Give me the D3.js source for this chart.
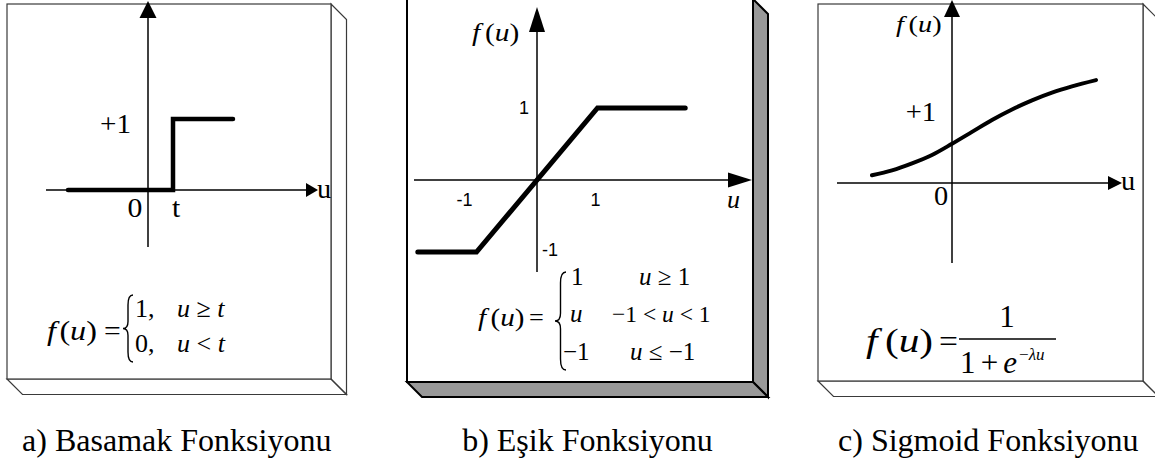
<!DOCTYPE html>
<html>
<head>
<meta charset="utf-8">
<script src="https://cdn.jsdelivr.net/npm/d3@7"></script>
<style>
  html, body { margin: 0; padding: 0; background: #fff; }
  svg { display: block; }
  .serif { font-family: "Liberation Serif", "Tinos", "Times New Roman", "DejaVu Serif", serif; }
  .sans { font-family: "Liberation Sans", Arimo, Arial, "DejaVu Sans", sans-serif; }
</style>
</head>
<body>
<svg id="fig" width="1155" height="461"></svg>
<script>
// ---- values ----
// a) step function: f = 0 for u < t, 1 for u >= t (u measured in units of t)
const stepU = [-3.2, 1, 1, 3.4];
const stepF = [0, 0, 1, 1];
// b) threshold (saturating linear) function
const rampU = [-1.97, -1, 1, 2.45];
const rampF = [-1, -1, 1, 1];
const rampTicks = [-1, 1];
// c) sigmoid curve, sampled points
const sigU = [-2.0, -1.5, -1.0, -0.5, 0, 0.5, 1.0, 1.5, 2.0, 2.5, 3.0, 3.6];
const sigF = [0.11, 0.18, 0.28, 0.40, 0.56, 0.73, 0.90, 1.05, 1.18, 1.29, 1.38, 1.47];
const captions = ["a) Basamak Fonksiyonu", "b) Eşik Fonksiyonu", "c) Sigmoid Fonksiyonu"];

// ---- layout ----
const svg = d3.select("#fig");

const panels = [
  { box: [7, 4, 331, 379], depth: 15.5, heavy: false,
    ox: 148, oy: 190, ux: 25, uy: 71,
    xAxis: [46, 318], yAxis: [1, 247], arrowV: [17, 8.5], arrowH: [12, 7] },
  { box: [407, -1, 753, 382], depth: 15, heavy: true,
    ox: 537, oy: 180, ux: 60.5, uy: 72,
    xAxis: [414, 752], yAxis: [7, 272], arrowV: [25, 8], arrowH: [24, 7.5] },
  { box: [818, 4, 1143, 381], depth: 15.5, heavy: false,
    ox: 952, oy: 183, ux: 40, uy: 70,
    xAxis: [837, 1122], yAxis: [0, 263], arrowV: [17, 8], arrowH: [14, 7] }
];

// 3-D looking slab behind each plot
function drawBox(p) {
  const [x0, y0, x1, y1] = p.box, d = p.depth;
  const g = svg.append("g")
    .attr("stroke", p.heavy ? "#000" : "#3a3a3a")
    .attr("stroke-width", p.heavy ? 2 : 1.2)
    .attr("stroke-linejoin", "miter");
  const fill = p.heavy ? "#999" : "none";
  g.append("polygon")
    .attr("points", [[x1, y0], [x1 + d, y0 + d], [x1 + d, y1 + d], [x1, y1]].join(" "))
    .attr("fill", fill);
  g.append("polygon")
    .attr("points", [[x0, y1], [x1, y1], [x1 + d, y1 + d], [x0 + d, y1 + d]].join(" "))
    .attr("fill", fill);
  g.append("rect")
    .attr("x", x0).attr("y", y0).attr("width", x1 - x0).attr("height", y1 - y0)
    .attr("fill", "#fff");
}

function drawAxes(p, g) {
  const a = g.append("g").attr("stroke", "#000").attr("stroke-width", 1.5);
  a.append("line").attr("x1", p.xAxis[0]).attr("x2", p.xAxis[1] - p.arrowH[0] + 1)
    .attr("y1", p.oy).attr("y2", p.oy);
  a.append("line").attr("x1", p.ox).attr("x2", p.ox)
    .attr("y1", p.yAxis[0] + p.arrowV[0] - 1).attr("y2", p.yAxis[1]);
  const [hl, hw] = p.arrowH, [vl, vw] = p.arrowV;
  g.append("path").attr("fill", "#000")
    .attr("d", `M${p.xAxis[1]},${p.oy} L${p.xAxis[1] - hl},${p.oy - hw} L${p.xAxis[1] - hl},${p.oy + hw} Z`);
  g.append("path").attr("fill", "#000")
    .attr("d", `M${p.ox},${p.yAxis[0]} L${p.ox - vw},${p.yAxis[0] + vl} L${p.ox + vw},${p.yAxis[0] + vl} Z`);
}

// text made of [string, italic, dx, dy, size] pieces, horizontally stretched by sx
function label(g, x, y, pieces, o = {}) {
  const t = g.append("text")
    .attr("class", o.sans ? "sans" : "serif")
    .attr("transform", `translate(${x},${y}) scale(${o.sx || 1},1)`)
    .attr("font-size", o.size || 24)
    .attr("text-anchor", o.anchor || "start")
    .attr("fill", "#000");
  if (typeof pieces === "string") pieces = [[pieces, !!o.italic]];
  pieces.forEach(([s, it, dx, dy, size]) => {
    const ts = t.append("tspan").attr("font-style", it ? "italic" : "normal").text(s);
    if (dx) ts.attr("dx", dx);
    if (dy) ts.attr("dy", dy);
    if (size) ts.attr("font-size", size);
  });
  return t;
}

// f(u) written the way an equation editor sets it
const fu = (gap) => [["f", true], ["(", false, gap], ["u", true], [")", false]];

function brace(g, x, yTop, yBot, w) {
  const m = (yTop + yBot) / 2, c = x + w * 0.5;
  g.append("path").attr("fill", "none").attr("stroke", "#000").attr("stroke-width", 1.4)
    .attr("d", `M${x + w},${yTop} Q${c},${yTop} ${c},${yTop + w} L${c},${m - w * 0.7}` +
      ` Q${c},${m} ${x},${m} Q${c},${m} ${c},${m + w * 0.7} L${c},${yBot - w} Q${c},${yBot} ${x + w},${yBot}`);
}

panels.forEach(drawBox);

const scales = panels.map(p => ({
  x: d3.scaleLinear().domain([0, 1]).range([p.ox, p.ox + p.ux]),
  y: d3.scaleLinear().domain([0, 1]).range([p.oy, p.oy - p.uy])
}));

// ---------- a) step ----------
{
  const p = panels[0], s = scales[0], g = svg.append("g");
  drawAxes(p, g);
  const pts = stepU.map((u, i) => [u, stepF[i]]);
  g.append("path").datum(pts)
    .attr("fill", "none").attr("stroke", "#000").attr("stroke-width", 4.5)
    .attr("stroke-linecap", "round").attr("stroke-linejoin", "miter")
    .attr("d", d3.line().x(d => s.x(d[0])).y(d => s.y(d[1])));
  label(g, 131, s.y(1) + 14, "+1", { size: 27, sx: 1.08, anchor: "end" });
  label(g, 135, s.y(0) + 27, "0", { size: 27, sx: 1.1, anchor: "middle" });
  label(g, s.x(1) + 3, s.y(0) + 27, "t", { size: 27, sx: 1.1, anchor: "middle" });
  label(g, 317, s.y(0) + 8, "u", { size: 27, sx: 1.05 });

  label(g, 47, 340, fu(3), { size: 28, sx: 1.15 });
  label(g, 104, 340, "=", { size: 27, sx: 1.1 });
  brace(g, 123, 295, 362, 10);
  label(g, 135, 317, "1,", { size: 26 });
  label(g, 177, 317, [["u", true], [" ≥ ", false], ["t", true]], { size: 26 });
  label(g, 135, 352, "0,", { size: 26 });
  label(g, 177, 352, [["u", true], [" < ", false], ["t", true]], { size: 26 });
}

// ---------- b) threshold ----------
{
  const p = panels[1], s = scales[1], g = svg.append("g");
  drawAxes(p, g);
  const pts = rampU.map((u, i) => [u, rampF[i]]);
  g.append("path").datum(pts)
    .attr("fill", "none").attr("stroke", "#000").attr("stroke-width", 5)
    .attr("stroke-linecap", "round").attr("stroke-linejoin", "miter")
    .attr("d", d3.line().x(d => s.x(d[0])).y(d => s.y(d[1])));

  const dxTick = { "-1": -12, "1": -2 };
  rampTicks.forEach(v => {
    label(g, s.x(v) + dxTick[v], s.y(0) + 26, String(v), { sans: true, size: 18, anchor: "middle" });
  });
  label(g, p.ox - 8, s.y(1) + 6, "1", { sans: true, size: 18, anchor: "end" });
  label(g, p.ox + 5, s.y(-1) + 4, "-1", { sans: true, size: 18 });
  label(g, 727, s.y(0) + 28, "u", { size: 26, italic: true });
  label(g, 472, 41, fu(4), { size: 25, sx: 1.18 });

  label(g, 478, 326, fu(4), { size: 26, sx: 1.12 });
  label(g, 529, 326, "=", { size: 25, sx: 1.05 });
  brace(g, 555, 272, 370, 11);
  label(g, 571, 285, "1", { size: 25 });
  label(g, 639, 285, [["u", true], [" ≥ 1", false]], { size: 25 });
  label(g, 570, 322, "u", { size: 25, italic: true });
  label(g, 612, 322, [["−1 < ", false], ["u", true], [" < 1", false]], { size: 24, sx: 0.98 });
  label(g, 563, 360, "−1", { size: 25 });
  label(g, 630, 360, [["u", true], [" ≤ −1", false]], { size: 25 });
}

// ---------- c) sigmoid ----------
{
  const p = panels[2], s = scales[2], g = svg.append("g");
  drawAxes(p, g);
  const pts = sigU.map((u, i) => [u, sigF[i]]);
  g.append("path").datum(pts)
    .attr("fill", "none").attr("stroke", "#000").attr("stroke-width", 4)
    .attr("stroke-linecap", "round")
    .attr("d", d3.line().curve(d3.curveMonotoneX).x(d => s.x(d[0])).y(d => s.y(d[1])));

  label(g, 896, 32, fu(4), { size: 24, sx: 1.18 });
  label(g, 936, s.y(1) + 8, "+1", { size: 28, sx: 1.02, anchor: "end" });
  label(g, 941, s.y(0) + 22, "0", { size: 27, sx: 1.05, anchor: "middle" });
  label(g, 1121, s.y(0) + 7, "u", { size: 27, sx: 1.05 });

  label(g, 866, 352, fu(6), { size: 33, sx: 1.25 });
  label(g, 939, 352, "=", { size: 32, sx: 1.05 });
  g.append("line").attr("x1", 959).attr("x2", 1056).attr("y1", 339).attr("y2", 339)
    .attr("stroke", "#000").attr("stroke-width", 1.3);
  label(g, 1007, 327, "1", { size: 31, anchor: "middle" });
  // denominator with its exponent raised in the same line of text
  label(g, 960, 373, [["1\u2006+\u2006", false], ["e", true],
    ["−", false, 2, -13, 17], ["λu", true, 0, 0, 17]], { size: 31 });
}

// ---------- captions ----------
panels.forEach((p, i) => {
  const cx = (p.box[0] + p.box[2] + p.depth) / 2;
  label(svg, cx, 451, captions[i], { size: 32, anchor: "middle" });
});
</script>
</body>
</html>
